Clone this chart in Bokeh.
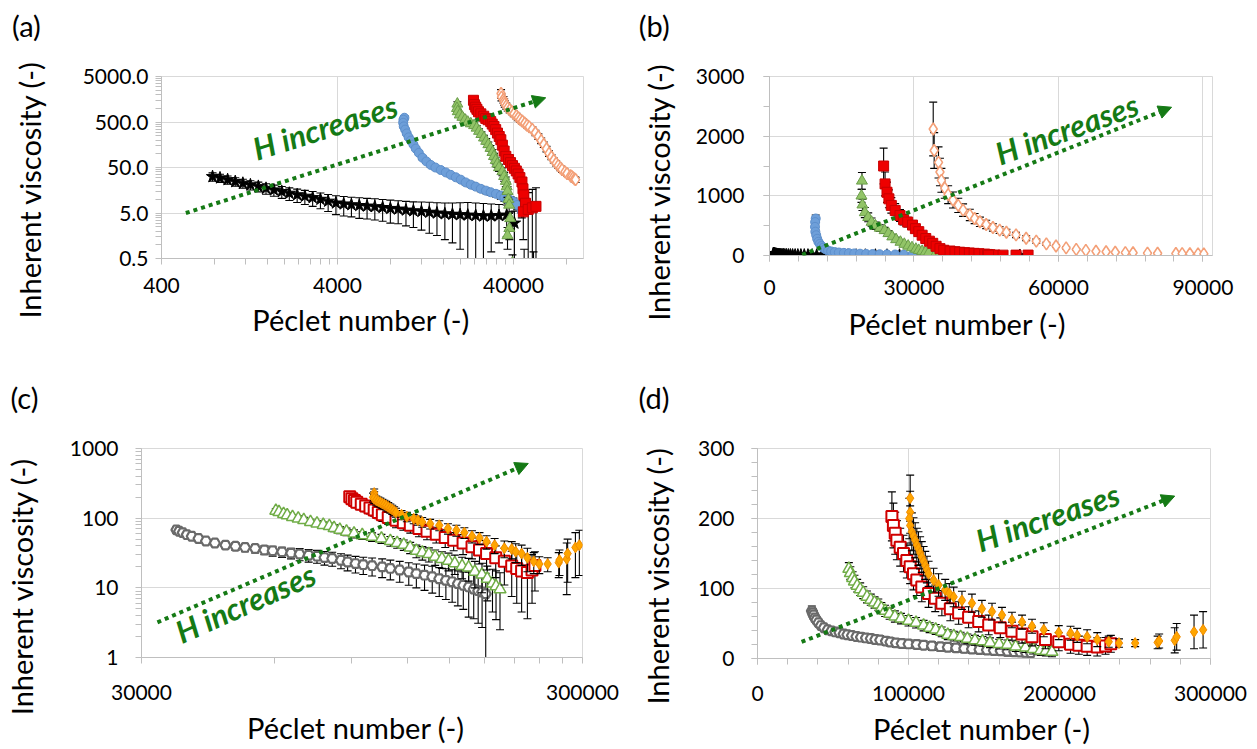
import numpy as np
from bokeh.plotting import figure
from bokeh.models import Label, Arrow, NormalHead, FixedTicker, PrintfTickFormatter, Range1d, Title
from bokeh.layouts import column, row
from bokeh.embed import file_html
from bokeh.resources import INLINE

FONT = "Lato"
GREEN_TXT = "#157a15"
GRID = "#d9d9d9"
AXIS_COL = "#bfbfbf"
NBSP = "\u00a0"

# ---------------- data set 1 (panels a and b) ----------------
S1_BLACK_X = [780, 860, 950, 1050, 1160, 1280, 1420, 1570, 1740, 1930, 2130, 2360, 2610, 2890, 3200,
              3540, 3920, 4340, 4800, 5320, 5890, 6520, 7220, 7990, 8850, 9800, 10800, 12000, 13300,
              14700, 16300, 18000, 19900, 22000, 24400, 27000, 29900, 33100, 36600, 40500, 46000, 52000]
S1_BLACK_Y = [31.5, 29.5, 27.0, 24.5, 22.5, 20.8, 19.2, 17.4, 16.1, 14.8, 13.6, 12.6, 11.7, 10.9, 10.0,
              9.1, 8.3, 7.9, 7.6, 7.3, 7.1, 6.9, 6.6, 6.3, 6.1, 5.8, 5.6, 5.4, 5.2,
              5.0, 4.8, 4.7, 4.6, 4.5, 4.4, 4.3, 4.3, 4.4, 4.5, 3.0, 0.3, 0.2]
S1_BLACK_ERR = [6.5, 6.0, 5.5, 5.2, 5.0, 4.8, 4.6, 4.5, 4.4, 4.3, 4.2, 4.1, 4.0, 3.9, 3.8,
                3.7, 3.7, 3.6, 3.5, 3.5, 3.4, 3.4, 3.3, 3.3, 3.2, 3.2, 3.2, 3.3, 3.4,
                3.4, 3.5, 3.6, 3.8, 4.0, 3.9, 3.8, 3.6, 3.3, 3.0, 2.5, 0.5, 0.5]

S1_BLUE_X = [9600, 9480, 9450, 9520, 9700, 9900, 10150, 10440, 10800, 11140, 11600, 12160, 12800, 13550,
             14400, 15450, 16500, 17600, 18800, 20070, 21400, 22880, 24400, 26100, 27900, 29700, 31800,
             33900, 35500, 37000, 38500, 40000, 42000, 44600]
S1_BLUE_Y = [620, 560, 480, 400, 340, 280, 230, 195, 160, 130, 105, 82, 68, 57,
             50, 44, 39, 34.5, 30.5, 27, 23.5, 21, 19, 17, 15.5, 14.3, 13.2,
             12.1, 11, 10, 9.5, 8.9, 7.5, 5.4]
S1_BLUE_ERR = [60, 45, 38, 32, 27, 23, 19, 16, 13, 11, 9, 7.5, 6.5, 5.5,
               5, 4.5, 4, 3.6, 3.3, 3.0, 2.8, 2.6, 2.4, 2.3, 2.2, 2.1, 2.0,
               2.0, 1.9, 1.8, 1.8, 1.7, 1.6, 1.5]

S1_GREEN_X = [19200, 19100, 19300, 19800, 20500, 21200, 22000, 22900, 23900, 24700, 25500, 26300, 27200,
              28000, 28800, 29600, 30400, 31000, 31700, 32400, 33100, 34600, 35400, 36200, 36600, 37000,
              37400, 37800, 38300, 37900, 37000, 39500, 41500, 43500, 45500]
S1_GREEN_Y = [1250, 1000, 850, 720, 640, 560, 500, 460, 420, 370, 315, 268, 225,
              190, 160, 133, 108, 88, 72, 60, 50, 41, 32, 25, 19, 15,
              10, 7.5, 3.8, 2.3, 1.6, 0.4, 0.3, 0.3, 0.2]
S1_GREEN_ERR = [140, 110, 95, 85, 75, 68, 62, 56, 52, 46, 40, 35, 30,
                26, 22, 19, 16, 14, 12, 10, 9, 8, 7, 6, 5, 4,
                3, 2.5, 1.5, 1, 0.8, 0.2, 0.1, 0.1, 0.1]

S1_RED_X = [23700, 24000, 24400, 24800, 25300, 26100, 27100, 27850, 28700, 29700, 30300, 31000, 31700,
            32450, 33200, 33900, 34600, 35400, 36200, 37500, 38500, 39500, 40500, 41500, 42500, 43500,
            44700, 45300, 45800, 46800, 45500, 48500, 51200, 53700]
S1_RED_Y = [1500, 1200, 1060, 950, 840, 755, 670, 600, 560, 510, 450, 400, 340,
            285, 240, 204, 155, 115, 88, 75, 64, 55, 48, 42, 36, 30,
            24, 17, 12.5, 8.2, 5.3, 6, 6.5, 7]
S1_RED_ERR = [300, 200, 170, 150, 130, 115, 100, 90, 80, 72, 65, 58, 50,
              42, 36, 30, 24, 18, 14, 12, 10, 9, 8, 7, 6, 5,
              4, 3, 2.5, 2, 4, 8, 10, 11]

S1_ORANGE_X = [34000, 34200, 35100, 35400, 35700, 36400, 37100, 38100, 39200, 40200, 41600, 42600, 43700,
               45000, 46400, 47800, 49200, 51200, 53300, 55400, 57500, 59500, 61600, 63700, 65700, 67800,
               69900, 71800, 73900, 75500, 78500, 80600, 84400, 85700, 87300, 89000, 90200]
S1_ORANGE_Y = [2120, 1760, 1560, 1400, 1260, 1130, 1020, 930, 840, 760, 680, 620, 565,
               520, 470, 425, 390, 345, 290, 240, 195, 160, 128, 102, 85, 72,
               62, 55, 49, 45, 40, 37, 33, 32, 30, 28, 27]
S1_ORANGE_ERR = [450, 300, 260, 230, 200, 170, 150, 135, 120, 105, 95, 85, 78,
                 70, 62, 56, 50, 45, 40, 34, 28, 22, 18, 14, 11, 9,
                 8, 7, 6.5, 6, 5.5, 5, 4.5, 4.2, 4, 3.8, 3.6]

# ---------------- data set 2 (panels c and d) ----------------
S2_GRAY_X = [36000, 36500, 37200, 38000, 39000, 40400, 42000, 44000, 46500, 49000, 51500, 54300, 57000,
             59500, 62500, 65500, 68500, 71800, 75000, 78000, 81200, 85000, 88000, 91700, 95500, 100000,
             105400, 110000, 115500, 121100, 126000, 131500, 136900, 142000, 147000, 151900, 156500,
             161000, 165600, 170000, 174000, 177600, 181000]
S2_GRAY_Y = [68, 65, 62, 58, 55, 51, 47, 44, 41, 39.5, 38, 36.7, 35,
             34, 32.8, 31.5, 30.5, 29.4, 28.5, 27.2, 26.4, 24.8, 23.5, 22.3, 21.5, 20.8,
             20, 19, 18, 16.9, 16, 15.2, 14.4, 13.5, 12.8, 12.2, 11.5,
             10.9, 10.3, 9.6, 9.1, 8.7, 8.2]
S2_GRAY_ERR = [7, 6, 6, 5.5, 5, 5, 4.5, 4.5, 4.5, 5, 5, 5, 5,
               5.5, 5.5, 5.5, 6, 6, 6, 6, 6, 6, 6, 6, 6, 6,
               6, 6, 6, 6, 6, 6, 6, 6, 6, 6, 6,
               6, 6.5, 6, 6, 6, 8]

S2_GREEN_X = [60500, 61500, 63000, 64200, 66000, 68000, 70000, 72500, 75000, 77500, 80000, 82000, 84500,
              87500, 91000, 95000, 100000, 105000, 110000, 114000, 118000, 122000, 126000, 130000, 134500,
              139000, 144000, 149000, 154000, 160000, 165500, 171000, 177500, 182500, 187500, 191000, 195000]
S2_GREEN_Y = [128, 122, 115, 110, 104, 99, 94, 88, 84, 80, 77, 72, 68,
              64, 60, 57, 54, 51, 47, 44, 41.5, 38, 34, 32, 30.5,
              28, 26, 24.5, 22.5, 20.5, 19.5, 17, 15.5, 13.5, 11.5, 10.5, 9.5]
S2_GREEN_ERR = [9, 9, 9, 9, 9, 9, 8.5, 8.5, 8, 8, 8, 8, 8,
                8, 8, 7.5, 7.5, 7.5, 7.5, 7, 7, 7, 7, 7, 7,
                7, 7, 7, 7, 7, 7, 7, 7, 7, 7, 7, 7]

S2_RED_X = [89000, 90000, 91200, 92300, 94500, 96700, 98900, 101100, 103300, 105500, 108800, 113300,
            117700, 122100, 127700, 133200, 139800, 146500, 153100, 160800, 168500, 175200, 181800,
            190700, 199500, 207300, 212800, 218300, 225000, 230500, 234000]
S2_RED_Y = [203, 190, 179, 169, 159, 150, 140, 131, 121, 112, 102, 93,
            86, 79, 71, 65, 59, 53, 48, 44, 39, 35, 31,
            27, 24, 20.5, 19, 17.5, 16.6, 18, 21]
S2_RED_ERR = [35, 32, 30, 28, 27, 26, 25, 24, 23, 22, 21, 20,
              19, 18, 17, 16, 15, 15, 14, 14, 13, 13, 13,
              13, 13, 13, 13, 13, 13, 12, 12]

S2_ORANGE_X = [101100, 101100, 100500, 101100, 102200, 103300, 104400, 105500, 106600, 107700, 108800,
               110000, 111100, 112200, 113300, 116600, 119900, 124300, 127000, 129900, 135400, 142000,
               148600, 155300, 161900, 168500, 175200, 181800, 189600, 199500, 207300, 211700, 218300,
               225000, 232600, 239400, 250100, 265000, 266000, 276300, 277600, 289100, 295100]
S2_ORANGE_Y = [229, 209, 200, 190, 181, 175, 169, 162, 157, 151, 145,
               139, 133, 127, 121, 112, 105, 98, 93, 88, 83, 79,
               71, 67, 62, 55, 52, 46, 41, 37, 36, 33, 31,
               27, 24, 22, 22, 23, 25, 26, 31, 38, 41]
S2_ORANGE_ERR = [33, 30, 29, 28, 27, 26, 25, 24, 24, 23, 22,
                 21, 20, 19, 18, 17, 16, 15, 14, 14, 13, 13,
                 12, 12, 11, 11, 10, 10, 10, 10, 10, 10, 10,
                 10, 8, 6, 5, 9, 10, 18, 19, 24, 26]

# "H increases" arrows (start x, start y, end x, end y) in data units of each panel
ARROW_A = (550, 5, 61000, 1700)
ARROW_B = (6800, 10, 83500, 2485)
ARROW_C = (32600, 3.2, 226000, 610)
ARROW_D = (29200, 23.7, 276300, 232)

# tick definitions
A_XTICKS = [400, 4000, 40000]
A_YTICKS = [0.5, 5, 50, 500, 5000]
B_XTICKS = [0, 30000, 60000, 90000]
B_YTICKS = [0, 1000, 2000, 3000]
C_XTICKS = [30000, 300000]
C_YTICKS = [1, 10, 100, 1000]
D_XTICKS = [0, 100000, 200000, 300000]
D_YTICKS = [0, 100, 200, 300]

XTITLE = "Péclet number (-)"
YTITLE = "Inherent viscosity (-)"


def log_minor(bases, upper):
    out = []
    for b in bases:
        for k in range(2, 10):
            v = b * k
            if v < upper:
                out.append(v)
    return out


def make_fig(xtype, ytype, xr, yr, fw, fh, bl, br, bt, bb, tag, tag_off):
    p = figure(x_axis_type=xtype, y_axis_type=ytype, x_range=Range1d(*xr), y_range=Range1d(*yr),
               frame_width=fw, frame_height=fh, min_border_left=bl, min_border_right=br,
               min_border_top=bt, min_border_bottom=bb, output_backend="svg",
               toolbar_location=None, title=tag + "\n" + NBSP)
    p.background_fill_color = "white"
    p.border_fill_color = "white"
    p.outline_line_color = GRID
    p.title.align = "left"
    p.title.offset = tag_off
    p.title.standoff = 0
    p.title.text_font = FONT
    p.title.text_font_size = "29px"
    p.title.text_line_height = 0.97
    p.title.text_font_style = "normal"
    p.title.text_color = "#000000"
    return p


def style(p, xt, xm, yt, ym, xfmt, yfmt, xstand, ystand):
    xtk = FixedTicker(ticks=xt, minor_ticks=xm)
    ytk = FixedTicker(ticks=yt, minor_ticks=ym)
    p.xaxis.ticker = xtk
    p.yaxis.ticker = ytk
    p.xgrid.ticker = xtk
    p.ygrid.ticker = ytk
    p.xaxis.formatter = PrintfTickFormatter(format=xfmt)
    p.yaxis.formatter = PrintfTickFormatter(format=yfmt)
    for ax in (p.xaxis[0], p.yaxis[0]):
        ax.axis_line_color = AXIS_COL
        ax.major_tick_line_color = AXIS_COL
        ax.minor_tick_line_color = AXIS_COL
        ax.major_tick_in = 0
        ax.major_tick_out = 6
        ax.minor_tick_in = 0
        ax.minor_tick_out = 6
        ax.major_label_text_font = FONT
        ax.major_label_text_font_size = "21px"
        ax.major_label_text_color = "#000000"
    p.xaxis.major_label_standoff = xstand
    p.yaxis.major_label_standoff = ystand
    p.xgrid.grid_line_color = GRID
    p.ygrid.grid_line_color = GRID


def titles(p, x_off, x_stand, y_pad, y_stand):
    p.add_layout(Title(text=XTITLE, align="left", offset=x_off, standoff=x_stand,
                       text_font=FONT, text_font_size="29px", text_font_style="normal",
                       text_color="#000000"), "below")
    ax = p.yaxis[0]
    ax.axis_label = YTITLE + NBSP * y_pad
    ax.axis_label_standoff = y_stand
    ax.axis_label_text_font = FONT
    ax.axis_label_text_font_size = "29px"
    ax.axis_label_text_font_style = "normal"
    ax.axis_label_text_color = "#000000"


def series(p, xs, ys, es, marker, size, fill, line, lw, logy):
    x = np.asarray(xs, float)
    y = np.asarray(ys, float)
    e = np.asarray(es, float)
    lo = y - e
    if logy:
        lo = np.where(lo > 0, lo, 1e-4)
    hi = y + e
    p.segment(x0=x, y0=lo, x1=x, y1=hi, line_color="black", line_width=1.1)
    p.scatter(x=x, y=hi, marker="dash", size=8, line_color="black", line_width=1.1)
    p.scatter(x=x, y=lo, marker="dash", size=8, line_color="black", line_width=1.1)
    p.scatter(x=x, y=y, marker=marker, size=size, fill_color=fill, line_color=line, line_width=lw)


def arrow(p, a, tx, ty, ang):
    p.add_layout(Arrow(end=NormalHead(size=13, fill_color=GREEN_TXT, line_color=GREEN_TXT),
                       x_start=a[0], y_start=a[1], x_end=a[2], y_end=a[3],
                       line_color=GREEN_TXT, line_width=4, line_dash="4 4"))
    p.add_layout(Label(x=tx, y=ty, text="H increases", angle=ang, angle_units="deg",
                       text_font=FONT, text_font_size="31px", text_font_style="bold italic",
                       text_color=GREEN_TXT, text_align="center", text_baseline="middle"))


def set1(p, logy):
    series(p, S1_BLACK_X, S1_BLACK_Y, S1_BLACK_ERR, "star", 13, "black", "black", 1, logy)
    series(p, S1_BLUE_X, S1_BLUE_Y, S1_BLUE_ERR, "circle", 9, "#6e9fd9", "#5d8fcc", 1, logy)
    series(p, S1_GREEN_X, S1_GREEN_Y, S1_GREEN_ERR, "triangle", 11, "#92c467", "#6b9e4a", 1, logy)
    series(p, S1_RED_X, S1_RED_Y, S1_RED_ERR, "square", 10, "#ee0000", "#c80000", 1, logy)
    series(p, S1_ORANGE_X, S1_ORANGE_Y, S1_ORANGE_ERR, "diamond", 12, "white", "#f4a078", 1.6, logy)


def set2(p, logy):
    series(p, S2_GRAY_X, S2_GRAY_Y, S2_GRAY_ERR, "hex", 10, "white", "#6a6a6a", 2.2, logy)
    series(p, S2_GREEN_X, S2_GREEN_Y, S2_GREEN_ERR, "triangle", 12, "white", "#70ad47", 1.5, logy)
    series(p, S2_RED_X, S2_RED_Y, S2_RED_ERR, "square", 11, "white", "#d00000", 2, logy)
    series(p, S2_ORANGE_X, S2_ORANGE_Y, S2_ORANGE_ERR, "diamond", 11, "#ffa500", "#f08c00", 1, logy)


# ---------------- panel (a) ----------------
fa = make_fig("log", "log", (400, 100000), (0.5, 5000), 422, 182, 161, 37, 75, 113, "(a)", -149.5)
style(fa, A_XTICKS, log_minor([400, 4000, 40000], 100000), A_YTICKS,
      log_minor([0.5, 5, 50, 500], 5000), "%d", "%.1f", 13, 7)
titles(fa, 90.8, 9, 6, 33)
set1(fa, True)
arrow(fa, ARROW_A, 3400, 390, 17.5)

# ---------------- panel (b) ----------------
fb = make_fig("linear", "linear", (0, 92000), (0, 3000), 443, 179, 149, 44, 76, 115, "(b)", -130.7)
style(fb, B_XTICKS, list(range(0, 92000, 6000)), B_YTICKS, list(range(0, 3001, 500)),
      "%d", "%d", 18, 19)
titles(fb, 79, 12, 7, 17)
set1(fb, False)
arrow(fb, ARROW_B, 61700, 2123, 20)

# ---------------- panel (c) ----------------
fc = make_fig("log", "log", (30000, 300000), (1, 1000), 441, 209, 141, 38, 78, 91, "(c)", -131)
style(fc, C_XTICKS, log_minor([30000], 300000), C_YTICKS, log_minor([1, 10, 100], 1000),
      "%d", "%d", 21, 17)
titles(fc, 105.5, 10, 9, 28)
set2(fc, True)
arrow(fc, ARROW_C, 51600, 6.1, 24)

# ---------------- panel (d) ----------------
fd = make_fig("linear", "linear", (0, 300000), (0, 300), 453, 210, 137, 46, 78, 90, "(d)", -119)
style(fd, D_XTICKS, list(range(0, 300001, 20000)), D_YTICKS, list(range(0, 301, 20)),
      "%d", "%d", 21, 17)
titles(fd, 115.5, 10, 6, 20)
set2(fd, False)
arrow(fd, ARROW_D, 192100, 202, 19)

layout = column(row(fa, fb), row(fc, fd))
open("out.html", "w").write(file_html(layout, INLINE))
